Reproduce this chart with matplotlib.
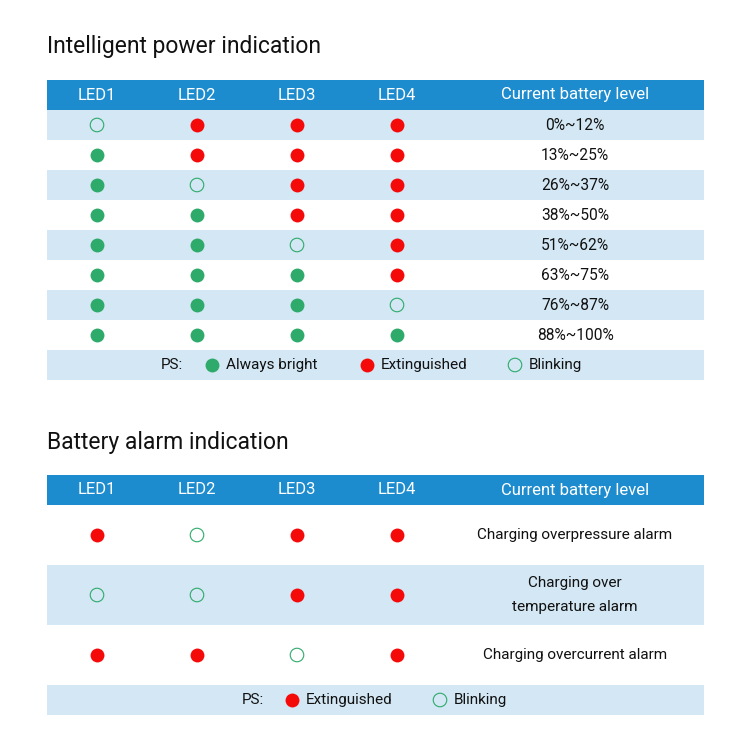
import matplotlib
matplotlib.use('Agg')
import matplotlib.pyplot as plt
from matplotlib.patches import Rectangle

plt.rcParams['font.family'] = ['Roboto', 'DejaVu Sans']

# states: G = always bright, R = extinguished, B = blinking
headers = ["LED1", "LED2", "LED3", "LED4", "Current battery level"]

power_states = [
    "BRRR",
    "GRRR",
    "GBRR",
    "GGRR",
    "GGBR",
    "GGGR",
    "GGGB",
    "GGGG",
]
power_levels = ["0%~12%", "13%~25%", "26%~37%", "38%~50%",
                "51%~62%", "63%~75%", "76%~87%", "88%~100%"]

alarm_states = ["RBRR", "BBRR", "RRBR"]
alarm_labels = ["Charging overpressure alarm",
                "Charging over\ntemperature alarm",
                "Charging overcurrent alarm"]

BLUE = '#1c8ccf'
LIGHT = '#d3e7f4'
GREEN = '#2eaa6a'
RED = '#f50a0a'

X0, X1 = 47, 704
col_x = [97, 197, 297, 397, 575]

fig = plt.figure(figsize=(7.5, 7.5), dpi=100)
ax = fig.add_axes([0, 0, 1, 1])
ax.set_xlim(0, 750)
ax.set_ylim(750, 0)
ax.axis('off')


def dot(x, y, s):
    if s == 'G':
        ax.scatter(x, y, s=100, color=GREEN, zorder=3, linewidths=0)
    elif s == 'R':
        ax.scatter(x, y, s=100, color=RED, zorder=3, linewidths=0)
    else:
        ax.scatter(x, y, s=95, facecolor='none', edgecolor=GREEN, linewidths=0.8, zorder=3)


def header(y):
    ax.add_patch(Rectangle((X0, y), X1 - X0, 30, color=BLUE, lw=0))
    for x, h in zip(col_x, headers):
        ax.text(x, y + 15, h, color='white', fontsize=12, ha='center', va='center')


def legend(y, items, ps_x):
    ax.add_patch(Rectangle((X0, y), X1 - X0, 30, color=LIGHT, lw=0))
    ax.text(ps_x, y + 15, "PS:", fontsize=11, ha='center', va='center', color='#111111')
    for x, s, t in items:
        dot(x, y + 15, s)
        ax.text(x + 14, y + 15, t, fontsize=11, ha='left', va='center', color='#111111')


# table 1
ax.text(X0, 47, "Intelligent power indication", fontsize=16.5, ha='left', va='center', color='#111111')
header(80)
for i, (st, lv) in enumerate(zip(power_states, power_levels)):
    y = 110 + 30 * i
    if i % 2 == 0:
        ax.add_patch(Rectangle((X0, y), X1 - X0, 30, color=LIGHT, lw=0))
    for x, s in zip(col_x, st):
        dot(x, y + 15, s)
    ax.text(col_x[4], y + 15, lv, fontsize=11.2, ha='center', va='center', color='#111111')
legend(350, [(212, 'G', "Always bright"), (367, 'R', "Extinguished"), (515, 'B', "Blinking")], 172)

# table 2
ax.text(X0, 442, "Battery alarm indication", fontsize=16.5, ha='left', va='center', color='#111111')
header(475)
for i, (st, lb) in enumerate(zip(alarm_states, alarm_labels)):
    y = 505 + 60 * i
    if i % 2 == 1:
        ax.add_patch(Rectangle((X0, y), X1 - X0, 60, color=LIGHT, lw=0))
    for x, s in zip(col_x, st):
        dot(x, y + 30, s)
    ax.text(col_x[4], y + 30, lb, fontsize=11, ha='center', va='center', linespacing=1.85,
            color='#111111')
legend(685, [(292, 'R', "Extinguished"), (440, 'B', "Blinking")], 253)

fig.savefig('out.png', dpi=100)
